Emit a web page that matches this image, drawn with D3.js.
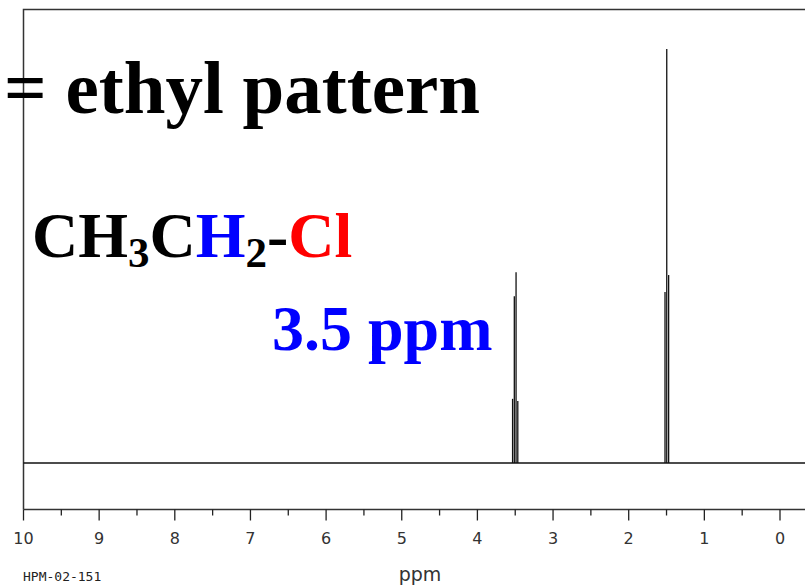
<!DOCTYPE html>
<html>
<head>
<meta charset="utf-8">
<script src="https://cdn.jsdelivr.net/npm/d3@7"></script>
<style>
  html, body { margin: 0; padding: 0; background: #fff; }
  svg { display: block; }
</style>
</head>
<body>
<svg id="chart" width="805" height="586"></svg>
<script>
// --- data: peak positions (ppm) and relative heights (% of tallest line) ---
const peakPpm    = [3.535, 3.512, 3.489, 3.466, 1.520, 1.497, 1.472];
const peakHeight = [15.5, 40.3, 46.1, 15.0, 41.3, 100, 45.4];
const majorTicks = [10, 9, 8, 7, 6, 5, 4, 3, 2, 1, 0];
const minorTicks = [9.5, 8.5, 7.5, 6.5, 5.5, 4.5, 3.5, 2.5, 1.5, 0.5];

const svg = d3.select("#chart"),
      W = +svg.attr("width"),
      H = +svg.attr("height");

// scales: ppm goes right-to-left
const x = d3.scaleLinear().domain([10, 0]).range([23.5, 780]);
const y = d3.scaleLinear().domain([0, 100]).range([463, 49]);
const axisY = 509.5;
const ink = "#111";

// --- frame (top + left) ---
svg.append("path")
  .attr("d", `M${W},9.5H23.5V${axisY}`)
  .attr("fill", "none")
  .attr("stroke", "#333")
  .attr("stroke-width", 1.5);

// --- spectrum baseline ---
svg.append("line")
  .attr("x1", x(10)).attr("x2", W)
  .attr("y1", y(0)).attr("y2", y(0))
  .attr("stroke", ink).attr("stroke-width", 1.3);

// --- peaks ---
const peaks = peakPpm.map((p, i) => ({ ppm: p, h: peakHeight[i] }));
svg.selectAll("line.peak")
  .data(peaks)
  .enter().append("line")
    .attr("class", "peak")
    .attr("x1", d => x(d.ppm)).attr("x2", d => x(d.ppm))
    .attr("y1", y(0)).attr("y2", d => y(d.h))
    .attr("stroke", ink)
    .attr("stroke-width", 1.3);

// --- x axis ---
const ax = svg.append("g").attr("transform", `translate(0,${axisY})`);
ax.append("line")
  .attr("x1", x(10)).attr("x2", W)
  .attr("stroke", "#333").attr("stroke-width", 1.5);

ax.selectAll("line.major")
  .data(majorTicks)
  .enter().append("line")
    .attr("class", "major")
    .attr("x1", d => x(d)).attr("x2", d => x(d))
    .attr("y1", 0).attr("y2", 11)
    .attr("stroke", "#222").attr("stroke-width", 1.3);

ax.selectAll("line.minor")
  .data(minorTicks)
  .enter().append("line")
    .attr("class", "minor")
    .attr("x1", d => x(d)).attr("x2", d => x(d))
    .attr("y1", 0).attr("y2", 6)
    .attr("stroke", "#222").attr("stroke-width", 1.3);

ax.selectAll("text.tick")
  .data(majorTicks)
  .enter().append("text")
    .attr("class", "tick")
    .attr("x", d => x(d))
    .attr("y", 34)
    .attr("text-anchor", "middle")
    .style("font-family", "DejaVu Sans")
    .style("font-size", "16px")
    .attr("fill", "#333")
    .text(d => d);

svg.append("text")
  .attr("x", 420).attr("y", 581)
  .attr("text-anchor", "middle")
  .style("font-family", "DejaVu Sans")
  .style("font-size", "19px")
  .attr("fill", "#333")
  .text("ppm");

svg.append("text")
  .attr("x", 23).attr("y", 581)
  .style("font-family", "DejaVu Sans Mono")
  .style("font-size", "13px")
  .attr("fill", "#222")
  .text("HPM-02-151");

// --- annotations ---
const serif = "'Liberation Serif', 'Times New Roman', serif";

svg.append("text")
  .attr("x", 480).attr("y", 113)
  .attr("text-anchor", "end")
  .style("font-family", serif)
  .style("font-size", "75px")
  .style("font-weight", "bold")
  .attr("fill", "#000")
  .text("= ethyl pattern");

// formula: CH3CH2-Cl with coloured parts
const formula = [
  { t: "CH", c: "#000", sub: false },
  { t: "3",  c: "#000", sub: true },
  { t: "C",  c: "#000", sub: false },
  { t: "H",  c: "#0000ff", sub: false },
  { t: "2",  c: "#000", sub: true },
  { t: "-",  c: "#000", sub: false },
  { t: "Cl", c: "#ff0000", sub: false }
];
const ft = svg.append("text")
  .attr("x", 32).attr("y", 257)
  .style("font-family", serif)
  .style("font-size", "64px")
  .style("font-weight", "bold");
let prevSub = false;
formula.forEach(p => {
  const dy = p.sub && !prevSub ? 10 : (!p.sub && prevSub ? -10 : 0);
  ft.append("tspan")
    .attr("dy", dy)
    .attr("fill", p.c)
    .style("font-size", p.sub ? "43px" : "64px")
    .text(p.t);
  prevSub = p.sub;
});

svg.append("text")
  .attr("x", 272).attr("y", 350)
  .style("font-family", serif)
  .style("font-size", "64px")
  .style("font-weight", "bold")
  .attr("fill", "#0000ff")
  .text("3.5 ppm");
</script>
</body>
</html>
